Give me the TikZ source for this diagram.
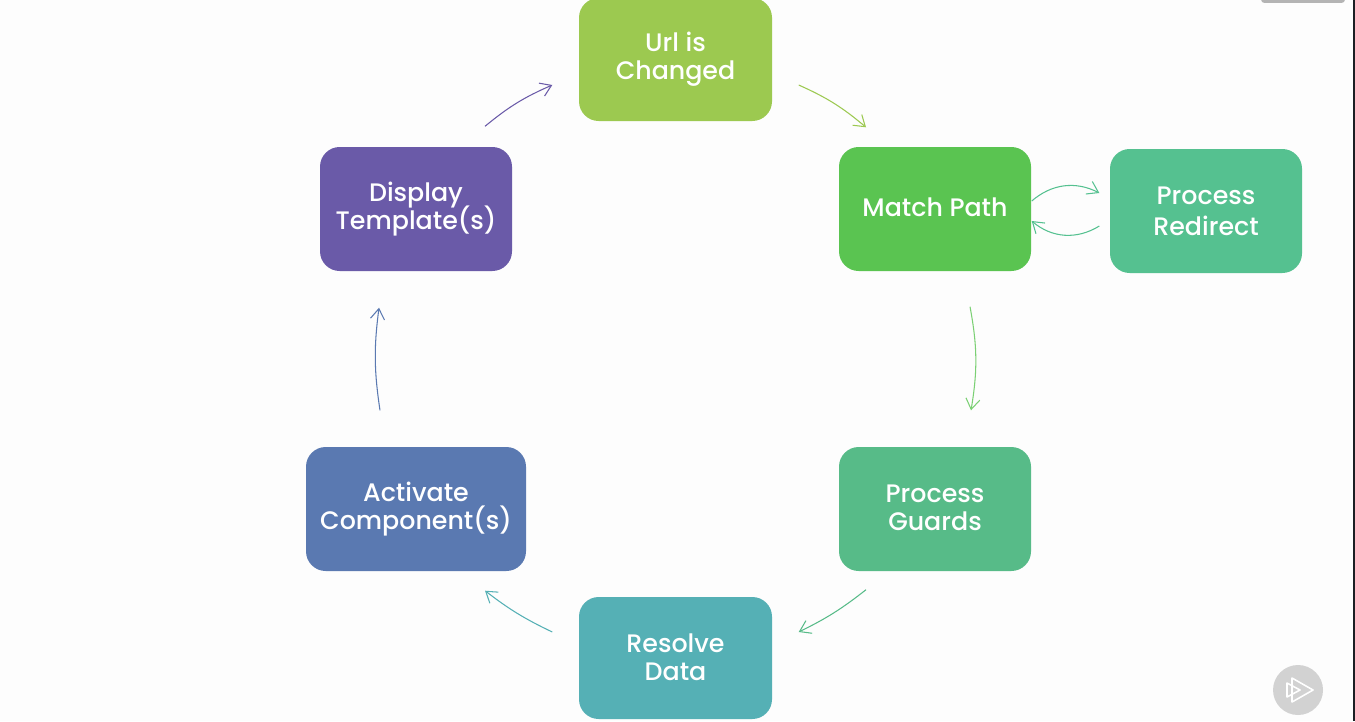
\documentclass[tikz,border=0pt]{standalone}
\usepackage{xcolor}
\usepackage{fontspec}
\setmainfont{Poppins Medium}
\definecolor{palurl}{HTML}{9CC950}
\definecolor{palmatch}{HTML}{5AC451}
\definecolor{palredirect}{HTML}{55C190}
\definecolor{palguards}{HTML}{57BB88}
\definecolor{palresolve}{HTML}{55B0B5}
\definecolor{palactivate}{HTML}{5A79B1}
\definecolor{paldisplay}{HTML}{6A5AA8}
\definecolor{palpage}{HTML}{FDFDFD}
\definecolor{palstrip}{HTML}{1C1F24}
\definecolor{palbutton}{HTML}{D2D2D2}
\definecolor{palbar}{HTML}{B4B4B4}
\usetikzlibrary{positioning, arrows.meta}
\newcommand{\boxfont}[1]{\fontsize{7.2}{#1}\selectfont\lineskiplimit=-5pt\relax}

\begin{document}
\begin{tikzpicture}[
  box/.style={rounded corners=5.6pt, align=center, text=white, font=\boxfont{7.97},
              minimum width=1.92cm, minimum height=1.24cm, inner sep=0pt},
  drop/.style={execute at end node={\rule[-#1]{0pt}{#1}}},
  arr/.style={-{Straight Barb[length=3pt, width=4pt]}, line width=0.3pt}
]
\useasboundingbox (0,0) rectangle (13.55,7.21);
\fill[palpage] (0,0) rectangle (13.55,7.21);
\fill[palstrip] (13.53,0) rectangle (13.55,7.21);
\fill[palbar, rounded corners=1pt] (12.61,7.3) rectangle (13.45,7.18);

\node[box, fill=palurl, minimum width=1.93cm, minimum height=1.23cm] (url) at (6.755,6.615) {Url is\\Changed};
\node[box, fill=palmatch, drop=1.14pt] (match) at (9.35,5.12) {Match Path};
\node[box, fill=palredirect, font=\boxfont{8.8}] (redirect) at (12.06,5.10) {Process\\Redirect};
\node[box, fill=palguards, drop=0.57pt] (guards) at (9.35,2.12) {Process\\Guards};
\node[box, fill=palresolve, drop=0.57pt, minimum width=1.93cm, minimum height=1.22cm] (resolve) at (6.755,0.63) {Resolve\\Data};
\node[box, fill=palactivate, minimum width=2.2cm] (activate) at (4.16,2.12) {Activate\\Component(s)};
\node[box, fill=paldisplay] (display) at (4.16,5.12) {Display\\Template(s)};
\node[circle, fill=palbutton, minimum size=0.5cm, inner sep=0pt] (play) at (12.98,0.31) {};

\draw[arr, draw=palurl] ([shift={(0.26,-0.255)}]url.east) to[bend left=8] ([shift={(-0.69,0.19)}]match.north);
\draw[arr, draw=palmatch!80!white] ([shift={(0.35,-0.35)}]match.south) to[bend left=10] ([shift={(0.36,0.36)}]guards.north);
\draw[arr, draw=palguards] ([shift={(-0.69,-0.18)}]guards.south) to[bend left=6] ([shift={(0.26,0.26)}]resolve.east);
\draw[arr, draw=palresolve] ([shift={(-0.26,0.26)}]resolve.west) to[bend left=6] ([shift={(0.69,-0.19)}]activate.south);
\draw[arr, draw=palactivate] ([shift={(-0.36,0.36)}]activate.north) to[bend left=8] ([shift={(-0.37,-0.36)}]display.south);
\draw[arr, draw=paldisplay] ([shift={(0.69,0.20)}]display.north) to[bend left=8] ([shift={(-0.26,-0.255)}]url.west);
\draw[arr, draw=palredirect] ([shift={(0,0.08)}]match.east) to[bend left=34] ([shift={(-0.10,0.18)}]redirect.west);
\draw[arr, draw=palredirect] ([shift={(-0.10,-0.15)}]redirect.west) to[bend left=36] ([shift={(0,-0.12)}]match.east);

\draw[white, line width=0.45pt, line join=round] ([shift={(-0.06,0.12)}]play.center) -- ([shift={(0.15,0)}]play.center) -- ([shift={(-0.06,-0.12)}]play.center) -- cycle;
\draw[white, line width=0.45pt, line join=round] ([shift={(-0.11,0.07)}]play.center) -- ([shift={(0.02,0)}]play.center) -- ([shift={(-0.11,-0.07)}]play.center) -- cycle;
\end{tikzpicture}
\end{document}
